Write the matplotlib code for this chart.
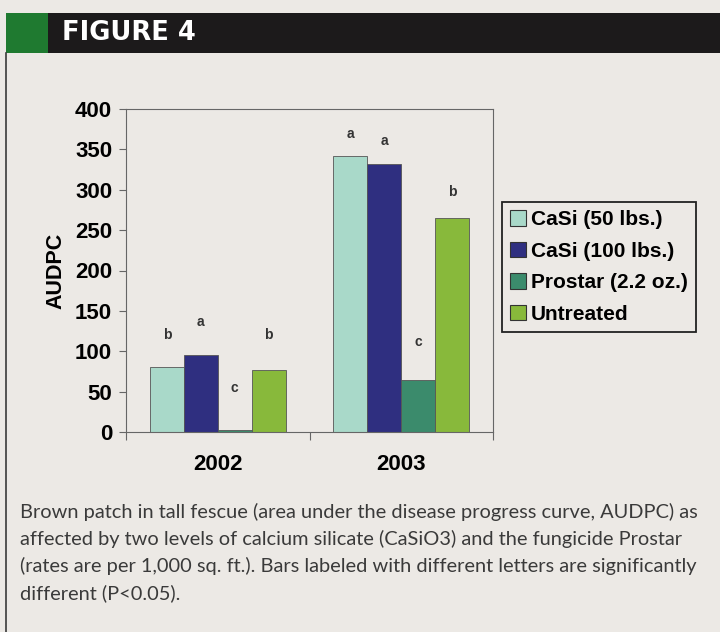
import matplotlib
matplotlib.use("Agg")
import matplotlib.pyplot as plt
from matplotlib.patches import Rectangle, Patch
import numpy as np

# Data
years = ["2002", "2003"]
treatments = ["CaSi (50 lbs.)", "CaSi (100 lbs.)", "Prostar (2.2 oz.)", "Untreated"]
audpc = {
    "CaSi (50 lbs.)": [80, 342],
    "CaSi (100 lbs.)": [95, 332],
    "Prostar (2.2 oz.)": [2, 65],
    "Untreated": [77, 265],
}
letters = {
    "CaSi (50 lbs.)": ["b", "a"],
    "CaSi (100 lbs.)": ["a", "a"],
    "Prostar (2.2 oz.)": ["c", "c"],
    "Untreated": ["b", "b"],
}
letter_height = {
    "CaSi (50 lbs.)": [120, 369],
    "CaSi (100 lbs.)": [136, 360],
    "Prostar (2.2 oz.)": [54, 111],
    "Untreated": [120, 297],
}
colors = ["#a9d9c9", "#2f2f80", "#3b8b6c", "#88b93b"]
caption = ("Brown patch in tall fescue (area under the disease progress curve, AUDPC) as\n"
           "affected by two levels of calcium silicate (CaSiO3) and the fungicide Prostar\n"
           "(rates are per 1,000 sq. ft.). Bars labeled with different letters are significantly\n"
           "different (P<0.05).")

BG = "#ece9e5"
plt.rcParams["font.family"] = ["Liberation Sans", "DejaVu Sans"]

fig = plt.figure(figsize=(7.2, 6.32), dpi=100)
fig.patch.set_facecolor(BG)

# header bar
fig.add_artist(Rectangle((6 / 720, 1 - 53 / 632), 1, 40 / 632, transform=fig.transFigure,
                         facecolor="#1c1a1b", edgecolor="none"))
fig.add_artist(Rectangle((6 / 720, 1 - 53 / 632), 42 / 720, 40 / 632, transform=fig.transFigure,
                         facecolor="#1f7a30", edgecolor="none"))
fig.text(62 / 720, 1 - 33 / 632, "FIGURE 4", color="white", fontsize=18.5, fontweight="heavy",
         family=["DejaVu Sans"], va="center", ha="left")
# left frame line
fig.add_artist(plt.Line2D([6.5 / 720, 6.5 / 720], [0, 1 - 53 / 632], transform=fig.transFigure,
                          color="#3a3a3a", linewidth=1.2))

ax = fig.add_axes([126 / 720, 1 - 432 / 632, 367 / 720, 323 / 632])
ax.set_facecolor(BG)

x = np.arange(len(years))
w = 0.185
for i, t in enumerate(treatments):
    pos = x + (i - 1.5) * w
    ax.bar(pos, audpc[t], width=w, color=colors[i], edgecolor="#555555", linewidth=0.6, label=t)
    for j in range(len(years)):
        ax.text(pos[j], letter_height[t][j], letters[t][j], ha="center", va="center",
                fontsize=10, fontweight="bold", color="#333333")

ax.set_xlim(-0.5, 1.5)
ax.set_ylim(0, 400)
ax.set_yticks(range(0, 401, 50))
ax.tick_params(axis="y", labelsize=16, length=5, width=0.8, color="#666666", pad=5)
for lab in ax.get_yticklabels():
    lab.set_fontweight("bold")
ax.set_xticks([-0.5, 0.5, 1.5])
ax.set_xticklabels([])
ax.tick_params(axis="x", which="major", length=6, width=0.8, color="#666666", direction="out")
ax.set_xticks(x, minor=True)
ax.set_xticklabels(years, minor=True, fontsize=16, fontweight="bold")
ax.tick_params(axis="x", which="minor", length=0, pad=16)
for s in ax.spines.values():
    s.set_color("#666666")
    s.set_linewidth(0.8)
ax.set_ylabel("AUDPC", fontsize=15.5, fontweight="bold", labelpad=6)

handles = [Patch(facecolor=colors[i], edgecolor="#333333", linewidth=0.8) for i in range(4)]
leg = ax.legend(handles, treatments, loc="center left", bbox_to_anchor=(502 / 720, 1 - 267 / 632),
                bbox_transform=fig.transFigure, borderaxespad=0, fancybox=False,
                prop={"weight": "bold", "size": 15}, handlelength=0.75, handleheight=0.75,
                handletextpad=0.25, labelspacing=0.6, borderpad=0.4, facecolor=BG, framealpha=1)
leg.get_frame().set_edgecolor("#222222")
leg.get_frame().set_linewidth(1.3)

fig.text(20 / 720, 1 - 503 / 632, caption, ha="left", va="top", fontsize=14.4,
         color="#3a3a3a", linespacing=1.6, family=["Lato", "DejaVu Sans"])

fig.savefig("out.png", dpi=100, facecolor=BG)
